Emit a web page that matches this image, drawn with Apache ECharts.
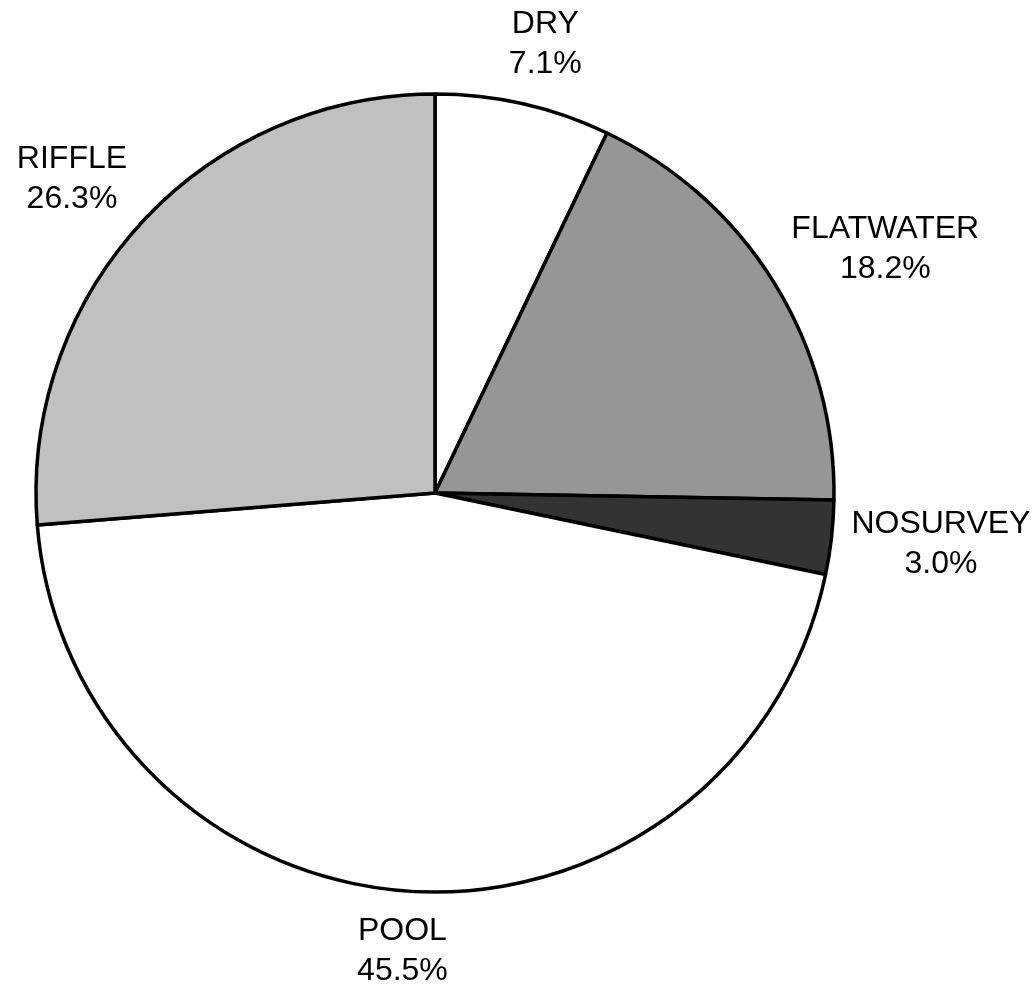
<!DOCTYPE html>
<html>
<head>
<meta charset="utf-8">
<title>Habitat composition</title>
<script src="https://cdn.jsdelivr.net/npm/echarts@6/dist/echarts.min.js"></script>
<style>
  html, body { margin: 0; padding: 0; background: #ffffff; }
  #chart { width: 1036px; height: 989px; }
</style>
</head>
<body>
<div id="chart"></div>
<script>
// Habitat types, clockwise from 12 o'clock, and their share of the surveyed length (%)
const categories = ['DRY', 'FLATWATER', 'NOSURVEY', 'POOL', 'RIFFLE'];
const shares = [7.1, 18.2, 3.0, 45.5, 26.3];
const sliceColors = ['#ffffff', '#969696', '#333333', '#ffffff', '#c0c0c0'];

const PIE_CENTER = [435, 493];
const PIE_RADIUS = 399;
const LABEL_GAP = 20;

const chart = echarts.init(document.getElementById('chart'), null, { renderer: 'canvas' });

// Geometry of one slice as laid out by the pie series
function sliceLayout(idx) {
  try {
    const data = chart.getModel().getSeriesByIndex(0).getData();
    const l = data.getItemLayout(idx);
    if (l && l.r != null && l.startAngle != null) return l;
  } catch (e) { /* fall back to recomputing below */ }
  const total = shares.reduce((a, b) => a + b, 0);
  let before = 0;
  for (let i = 0; i < idx; i++) before += shares[i];
  const start = -Math.PI / 2 + before / total * Math.PI * 2;
  const end = start + shares[idx] / total * Math.PI * 2;
  return { cx: PIE_CENTER[0], cy: PIE_CENTER[1], r: PIE_RADIUS, startAngle: start, endAngle: end };
}

const clampUnit = v => Math.max(-1, Math.min(1, v));

const option = {
  backgroundColor: '#ffffff',
  animation: false,
  series: [{
    type: 'pie',
    center: PIE_CENTER,
    radius: PIE_RADIUS,
    startAngle: 90,
    clockwise: true,
    avoidLabelOverlap: false,
    silent: true,
    itemStyle: { borderColor: '#000000', borderWidth: 3.5 },
    label: {
      show: true,
      position: 'outside',
      color: '#000000',
      fontFamily: '"Liberation Sans", Arial, sans-serif',
      fontSize: 32,
      lineHeight: 40,
      formatter: p => p.name + '\n' + p.value.toFixed(1) + '%'
    },
    labelLine: { show: false },
    emphasis: { disabled: true },
    data: categories.map((name, i) => ({
      name: name,
      value: shares[i],
      itemStyle: { color: sliceColors[i] }
    })),
    // Anchor each label just outside the rim on its slice's bisector and
    // push the text box away from the pie according to that direction
    labelLayout: function (params) {
      const l = sliceLayout(params.dataIndex);
      const mid = (l.startAngle + l.endAngle) / 2;
      const dx = Math.cos(mid), dy = Math.sin(mid);
      const w = params.labelRect.width, h = params.labelRect.height;
      const anchor = l.r + LABEL_GAP;
      return {
        x: l.cx + dx * anchor + clampUnit(dx * 2.2) * w / 2,
        y: l.cy + dy * anchor + clampUnit(dy * 1.1) * h / 2,
        align: 'center',
        verticalAlign: 'middle'
      };
    }
  }]
};

chart.setOption(option);
</script>
</body>
</html>
